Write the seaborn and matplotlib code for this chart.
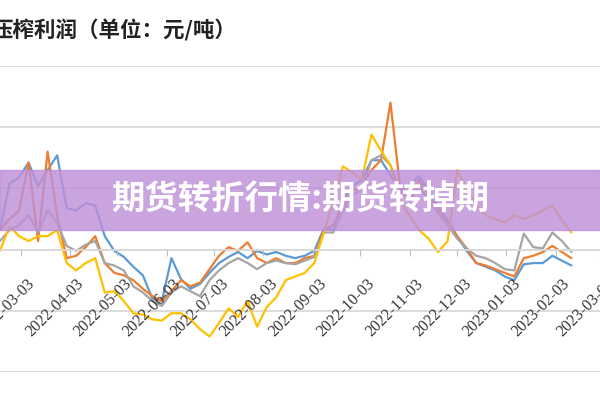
import pandas as pd
import numpy as np
import matplotlib.pyplot as plt
from matplotlib.patches import Rectangle
from matplotlib.transforms import ScaledTranslation
import seaborn as sns

# sample dates, every 6 days
dates = pd.date_range('2022-02-18', periods=61, freq='6D')

tick_labels = ['2022-03-03', '2022-04-03', '2022-05-03', '2022-06-03', '2022-07-03',
               '2022-08-03', '2022-09-03', '2022-10-03', '2022-11-03', '2022-12-03',
               '2023-01-03', '2023-02-03', '2023-03-03']
grid_levels = [-1000, -500, 0, 500, 1000, 1500]

blue = [160, 540, 590, 710, 520, 650, 770, 340, 320, 380,
        360, 110, -10, -60, -140, -210, -400, -420, -70, -240,
        -320, -280, -190, -110, -60, -20, -70, -10, -40, -20,
        -50, -70, -50, -10, 170, 160, 400, 520, 570, 730,
        730, 610, 480, 520, 600, 480, 360, 240, 110, -10,
        -110, -140, -170, -220, -250, -120, -110, -110, -50, -90, -130]

orange = [160, 250, 320, 710, 70, 800, 280, -70, -50, 20,
          110, -110, -190, -210, -250, -320, -380, -420, -340, -250,
          -300, -270, -160, -50, 20, -10, 60, -70, -110, -70,
          -110, -110, -70, -50, 160, 200, 360, 480, 520, 650,
          730, 1200, 520, 440, 570, 440, 340, 220, 110, 10,
          -110, -130, -160, -190, -220, -70, -50, -20, 30, -20, -70]

gray = [70, 160, 200, 280, 140, 320, 220, 30, -10, 40,
        70, -110, -130, -170, -300, -350, -420, -460, -350, -300,
        -340, -380, -250, -170, -110, -70, -110, -160, -110, -90,
        -110, -120, -90, -60, 140, 140, 320, 440, 500, 730,
        770, 690, 480, 400, 520, 400, 300, 200, 90, 10,
        -50, -70, -110, -160, -170, 130, 20, 10, 140, 70, -20]

yellow = [-10, 190, 110, 70, 110, 110, 160, -110, -170, -110,
          -70, -350, -340, -420, -520, -530, -570, -580, -520, -520,
          -570, -650, -710, -600, -480, -550, -420, -630, -470, -390,
          -250, -220, -190, -110, 140, 400, 680, 630, 570, 940,
          810, 690, 400, 280, 160, 90, -20, 70, 650, 500,
          360, 280, 250, 220, 280, 250, 280, 320, 360, 240, 140]

names = ['系列1', '系列2', '系列3', '系列4']
colors = ['#5B9BD5', '#ED7D31', '#A5A5A5', '#FFC000']

df = pd.concat([
    pd.DataFrame({'日期': dates, '利润': vals, '系列': name})
    for name, vals in zip(names, [blue, orange, gray, yellow])
])

sns.set_style('white')
plt.rcParams['font.family'] = ['Noto Sans CJK SC', 'DejaVu Sans']

fig = plt.figure(figsize=(6, 4), dpi=100)
ax = fig.add_axes([0, 0.07, 1, 0.765])

# horizontal gridlines under the data
for lvl in grid_levels:
    ax.axhline(lvl, color='#D9D9D9', linewidth=1.3, zorder=0.5)

sns.lineplot(data=df, x='日期', y='利润', hue='系列', palette=colors,
             linewidth=1.6, legend=False, ax=ax)

# axis line at zero (set before tick styling, it resets the ticks)
for s in ['left', 'right', 'top']:
    ax.spines[s].set_visible(False)
ax.spines['bottom'].set_position(('data', 0))
ax.spines['bottom'].set_color('#D9D9D9')
ax.spines['bottom'].set_linewidth(1.3)
ax.set_axisbelow(False)  # date labels sit on top of the lines

ax.set_ylim(-1000, 1500)
ax.set_yticks([])
ax.set_xlim(pd.Timestamp('2022-02-18'), pd.Timestamp('2023-02-15'))
ax.set_xticks(pd.to_datetime(tick_labels))
ax.set_xticklabels(tick_labels)
ax.tick_params(axis='x', bottom=True, length=4, color='#BFBFBF', pad=12)
shift = ScaledTranslation(6 / 100, -4 / 100, fig.dpi_scale_trans)
for lab in ax.get_xticklabels():
    lab.set(rotation=45, ha='right', rotation_mode='anchor',
            fontfamily='Liberation Serif', fontsize=11.5, color='#333333')
    lab.set_transform(lab.get_transform() + shift)
ax.set_xlabel('')
ax.set_ylabel('')

fig.text(-8 / 600, 0.925, '压榨利润（单位：元/吨）', fontsize=15.5, fontweight='bold',
         color='#222222', va='center', ha='left')

fig.add_artist(Rectangle((0, 0.425), 1, 0.15, transform=fig.transFigure,
                         color='#BE90D8', alpha=0.82, zorder=5))
fig.text(0.5, 0.5, '期货转折行情:期货转掉期', fontsize=24, fontweight='bold',
         color='white', ha='center', va='center', zorder=6)

fig.savefig('out.png', dpi=100)
